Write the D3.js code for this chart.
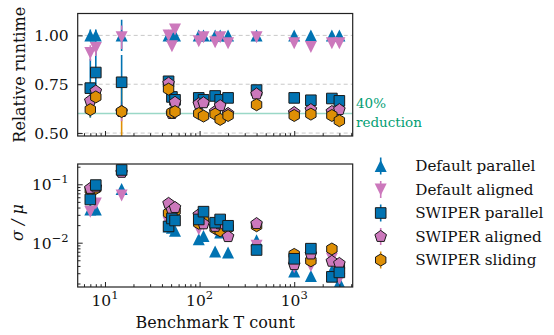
<!DOCTYPE html>
<html>
<head>
<meta charset="utf-8">
<script src="https://cdn.jsdelivr.net/npm/d3@7/dist/d3.min.js"></script>
<style>
  body { margin: 0; background: #fff; }
  svg { display: block; }
  text { font-family: "DejaVu Serif", serif; fill: #111; }
</style>
</head>
<body>
<svg id="chart" width="554" height="335"></svg>
<script>
// Benchmark sizes (T count) shared by both panels
const tCounts = [7, 8, 15, 47, 51, 55, 98, 110, 146, 165, 200, 400, 1000, 1500, 2500, 3000];

const seriesNames = ["Default parallel", "Default aligned", "SWIPER parallel", "SWIPER aligned", "SWIPER sliding"];

// Relative runtime (upper panel)
const runtimeDefaultParallel = [1.0, 1.0, 1.0, 1.0, 1.0, 1.0, 1.0, 1.0, 1.0, 1.0, 1.0, 1.0, 1.0, 1.0, 1.0, 1.0];
const runtimeDefaultAligned  = [0.91, 0.935, 0.99, 1.0, 0.945, 1.03, 0.97, 0.99, 0.965, 0.99, 0.96, 0.99, 0.96, 0.94, 0.96, 0.96];
const runtimeSwiperParallel  = [0.73, 0.81, 0.76, 0.765, 0.685, 0.67, 0.68, 0.67, 0.69, 0.67, 0.68, 0.72, 0.68, 0.668, 0.677, 0.665];
const runtimeSwiperAligned   = [0.665, 0.715, 0.61, 0.755, 0.60, 0.657, 0.65, 0.655, 0.61, 0.64, 0.60, 0.70, 0.605, 0.62, 0.61, 0.62];
const runtimeSwiperSliding   = [0.62, 0.685, 0.61, 0.725, 0.605, 0.61, 0.60, 0.587, 0.597, 0.57, 0.59, 0.645, 0.59, 0.597, 0.59, 0.563];

// Error half-widths on relative runtime
const errDefaultParallel = [0.03, 0.03, 0.08, 0.01, 0.01, 0.01, 0.01, 0.01, 0.01, 0.01, 0.01, 0.01, 0.01, 0.01, 0.01, 0.01];
const errDefaultAligned  = [0.04, 0.04, 0.06, 0.02, 0.02, 0.02, 0.02, 0.02, 0.02, 0.02, 0.02, 0.01, 0.01, 0.01, 0.01, 0.01];
const errSwiperParallel  = [0.15, 0.12, 0.14, 0.02, 0.02, 0.02, 0.02, 0.02, 0.02, 0.02, 0.02, 0.01, 0.01, 0.01, 0.01, 0.01];
const errSwiperAligned   = [0.03, 0.03, 0.05, 0.01, 0.01, 0.01, 0.01, 0.01, 0.01, 0.01, 0.01, 0.01, 0.01, 0.01, 0.01, 0.01];
const errSwiperSliding   = [0.04, 0.03, 0.14, 0.01, 0.01, 0.01, 0.01, 0.01, 0.01, 0.01, 0.01, 0.01, 0.01, 0.01, 0.01, 0.01];

// Coefficient of variation sigma/mu (lower panel)
const cvDefaultParallel = [0.037, 0.037, 0.083, 0.019, 0.018, 0.016, 0.0114, 0.013, 0.0071, 0.015, 0.0068, 0.011, 0.0032, 0.0027, 0.0033, 0.0021];
const cvDefaultAligned  = [0.034, 0.047, 0.064, 0.022, 0.024, 0.028, 0.017, 0.02, 0.0165, 0.023, 0.015, 0.0089, 0.0038, 0.004, 0.0053, 0.0024];
const cvSwiperParallel  = [0.055, 0.097, 0.176, 0.019, 0.026, 0.024, 0.025, 0.034, 0.022, 0.025, 0.0195, 0.0075, 0.0053, 0.0079, 0.0026, 0.0031];
const cvSwiperAligned   = [0.085, 0.09, 0.16, 0.047, 0.036, 0.04, 0.030, 0.021, 0.019, 0.021, 0.0127, 0.0212, 0.0042, 0.0064, 0.0048, 0.0044];
const cvSwiperSliding   = [0.08, 0.085, 0.4, 0.032, 0.025, 0.035, 0.0215, 0.024, 0.0176, 0.016, 0.018, 0.0195, 0.0063, 0.0049, 0.0078, 0.0040];

const runtimeTicks = [0.5, 0.75, 1.0];
const cvTicks = [0.01, 0.1];
const countTicks = [10, 100, 1000];
const reductionLevel = 0.6;

// ---- styling ----
const colors = ["#0173b2", "#cc78bc", "#0173b2", "#cc78bc", "#de8f05"];
const shapes = ["tri-up", "tri-down", "square", "pentagon", "hexagon"];
const edged  = [false, false, true, true, true];
const green = "#029e73";

const runtime = [runtimeDefaultParallel, runtimeDefaultAligned, runtimeSwiperParallel, runtimeSwiperAligned, runtimeSwiperSliding];
const runtimeErr = [errDefaultParallel, errDefaultAligned, errSwiperParallel, errSwiperAligned, errSwiperSliding];
const cv = [cvDefaultParallel, cvDefaultAligned, cvSwiperParallel, cvSwiperAligned, cvSwiperSliding];

function markerPath(shape) {
  const p = d3.path();
  if (shape === "tri-up") {
    const s = 6;
    p.moveTo(0, -s); p.lineTo(s, s); p.lineTo(-s, s); p.closePath();
  } else if (shape === "tri-down") {
    const s = 6;
    p.moveTo(0, s); p.lineTo(s, -s); p.lineTo(-s, -s); p.closePath();
  } else if (shape === "square") {
    const s = 5.3;
    p.rect(-s, -s, 2 * s, 2 * s);
  } else {
    const n = shape === "pentagon" ? 5 : 6;
    const r = shape === "pentagon" ? 6.1 : 6.0;
    for (let k = 0; k < n; k++) {
      const a = -Math.PI / 2 + k * 2 * Math.PI / n;
      const px = r * Math.cos(a), py = r * Math.sin(a);
      if (k === 0) p.moveTo(px, py); else p.lineTo(px, py);
    }
    p.closePath();
  }
  return p.toString();
}

const svg = d3.select("#chart");
const left = 77.7, right = 352.7;
const top1 = 13.5, bot1 = 136;
const top2 = 164, bot2 = 287;

const x = d3.scaleLog().domain([5.15, 4150]).range([left, right]);
const yTop = d3.scaleLinear().domain([0.485, 1.112]).range([bot1, top1]);
const yBot = d3.scaleLog().domain([0.001743, 0.2226]).range([bot2, top2]);

const defs = svg.append("defs");
defs.append("clipPath").attr("id", "clipTop").append("rect")
  .attr("x", left).attr("y", top1).attr("width", right - left).attr("height", bot1 - top1);
defs.append("clipPath").attr("id", "clipBot").append("rect")
  .attr("x", left).attr("y", top2).attr("width", right - left).attr("height", bot2 - top2);

function minorTicks(lo, hi) {
  const out = [];
  for (let e = Math.floor(Math.log10(lo)); e <= Math.ceil(Math.log10(hi)); e++) {
    for (let m = 2; m <= 9; m++) {
      const v = m * Math.pow(10, e);
      if (v >= lo && v <= hi) out.push(v);
    }
  }
  return out;
}

function styleAxis(g) {
  g.select(".domain").remove();
  g.selectAll(".tick line").attr("stroke", "#222").attr("stroke-width", 1);
}

function powLabel(sel, exp) {
  sel.append("tspan").text("10");
  sel.append("tspan").attr("dy", -7).attr("font-size", 11.5)
    .text(exp < 0 ? "\u2212" + (-exp) : String(exp));
}

function drawMarkers(g, yScale, values, order) {
  order.forEach(s => {
    g.append("g").selectAll("path").data(tCounts.map((t, i) => ({ t, v: values[s][i] })))
      .join("path")
      .attr("d", markerPath(shapes[s]))
      .attr("transform", d => `translate(${x(d.t)},${yScale(d.v)})`)
      .attr("fill", colors[s])
      .attr("stroke", edged[s] ? "#1a1a1a" : "none")
      .attr("stroke-width", 1);
  });
}

// ---- upper panel ----
const gTop = svg.append("g");
gTop.append("g").selectAll("line").data(runtimeTicks).join("line")
  .attr("x1", left).attr("x2", right)
  .attr("y1", d => yTop(d)).attr("y2", d => yTop(d))
  .attr("stroke", "#c8c8c8").attr("stroke-width", 1).attr("stroke-dasharray", "4,3");

gTop.append("line")
  .attr("x1", left).attr("x2", right)
  .attr("y1", yTop(reductionLevel)).attr("y2", yTop(reductionLevel))
  .attr("stroke", green).attr("stroke-opacity", 0.4).attr("stroke-width", 1.5);

const plotTop = gTop.append("g").attr("clip-path", "url(#clipTop)");
const errOrder = [4, 3, 2, 0, 1];
errOrder.forEach(s => {
  plotTop.append("g").selectAll("line").data(tCounts.map((t, i) => ({ t, v: runtime[s][i], e: runtimeErr[s][i] })))
    .join("line")
    .attr("x1", d => x(d.t)).attr("x2", d => x(d.t))
    .attr("y1", d => yTop(d.v - d.e)).attr("y2", d => yTop(d.v + d.e))
    .attr("stroke", colors[s]).attr("stroke-width", 1.6);
});
drawMarkers(plotTop, yTop, runtime, [0, 1, 2, 3, 4]);

gTop.append("g").attr("transform", `translate(0,${bot1})`)
  .call(d3.axisBottom(x).tickValues(countTicks).tickSizeInner(-5).tickSizeOuter(0).tickFormat(""))
  .call(styleAxis);
gTop.append("g").attr("transform", `translate(0,${bot1})`)
  .call(d3.axisBottom(x).tickValues(minorTicks(5.15, 4150)).tickSizeInner(-2.8).tickSizeOuter(0).tickFormat(""))
  .call(styleAxis);
gTop.append("g").attr("transform", `translate(${left},0)`)
  .call(d3.axisLeft(yTop).tickValues(runtimeTicks).tickSizeInner(-5).tickSizeOuter(0)
    .tickPadding(9).tickFormat(d3.format(".2f")))
  .call(styleAxis)
  .call(g => g.selectAll("text").attr("font-size", 15.5).attr("font-family", "DejaVu Serif").attr("fill", "#111"));

gTop.append("rect").attr("x", left).attr("y", top1).attr("width", right - left).attr("height", bot1 - top1)
  .attr("fill", "none").attr("stroke", "#222").attr("stroke-width", 1.2);

svg.append("text").attr("transform", `translate(25,${(top1 + bot1) / 2}) rotate(-90)`)
  .attr("text-anchor", "middle").attr("font-size", 16).text("Relative runtime");

svg.append("text").attr("x", 356).attr("y", yTop(reductionLevel) - 6)
  .attr("font-size", 13.5).style("fill", green).text("40%");
svg.append("text").attr("x", 356).attr("y", yTop(reductionLevel) + 13)
  .attr("font-size", 13.5).style("fill", green).text("reduction");

// ---- lower panel ----
const gBot = svg.append("g");
const plotBot = gBot.append("g").attr("clip-path", "url(#clipBot)");
drawMarkers(plotBot, yBot, cv, [0, 1, 4, 3, 2]);

gBot.append("g").attr("transform", `translate(0,${bot2})`)
  .call(d3.axisBottom(x).tickValues(countTicks).tickSizeInner(-5).tickSizeOuter(0).tickFormat(""))
  .call(styleAxis);
gBot.append("g").attr("transform", `translate(0,${bot2})`)
  .call(d3.axisBottom(x).tickValues(minorTicks(5.15, 4150)).tickSizeInner(-2.8).tickSizeOuter(0).tickFormat(""))
  .call(styleAxis);
gBot.append("g").attr("transform", `translate(${left},0)`)
  .call(d3.axisLeft(yBot).tickValues(cvTicks).tickSizeInner(-5).tickSizeOuter(0).tickFormat(""))
  .call(styleAxis);
gBot.append("g").attr("transform", `translate(${left},0)`)
  .call(d3.axisLeft(yBot).tickValues(minorTicks(0.001743, 0.2226)).tickSizeInner(-2.8).tickSizeOuter(0).tickFormat(""))
  .call(styleAxis);

gBot.append("rect").attr("x", left).attr("y", top2).attr("width", right - left).attr("height", bot2 - top2)
  .attr("fill", "none").attr("stroke", "#222").attr("stroke-width", 1.2);

// log tick labels
gBot.append("g").selectAll("text").data(cvTicks).join("text")
  .attr("x", left - 9).attr("y", d => yBot(d) + 6)
  .attr("text-anchor", "end").attr("font-size", 15.5)
  .each(function (d) { powLabel(d3.select(this), Math.round(Math.log10(d))); });
gBot.append("g").selectAll("text").data(countTicks).join("text")
  .attr("x", d => x(d)).attr("y", bot2 + 19)
  .attr("text-anchor", "middle").attr("font-size", 15.5)
  .each(function (d) { powLabel(d3.select(this), Math.round(Math.log10(d))); });

svg.append("text").attr("x", (left + right) / 2).attr("y", 328)
  .attr("text-anchor", "middle").attr("font-size", 16).text("Benchmark T count");

svg.append("text").attr("transform", `translate(23,${(top2 + bot2) / 2 - 3}) rotate(-90)`)
  .attr("text-anchor", "middle").attr("font-size", 16).attr("font-style", "italic").text("σ / μ");

// ---- legend ----
const legend = svg.append("g").attr("transform", "translate(380.7,166)");
seriesNames.forEach((name, s) => {
  const row = legend.append("g").attr("transform", `translate(0,${s * 23.5})`);
  row.append("line").attr("x1", 0).attr("x2", 0).attr("y1", -8.5).attr("y2", 8.5)
    .attr("stroke", colors[s]).attr("stroke-width", 1.6);
  row.append("path").attr("d", markerPath(shapes[s]))
    .attr("fill", colors[s]).attr("stroke", edged[s] ? "#1a1a1a" : "none").attr("stroke-width", 1);
  row.append("text").attr("x", 34.5).attr("y", 5.4).attr("font-size", 15.2).text(name);
});
</script>
</body>
</html>
